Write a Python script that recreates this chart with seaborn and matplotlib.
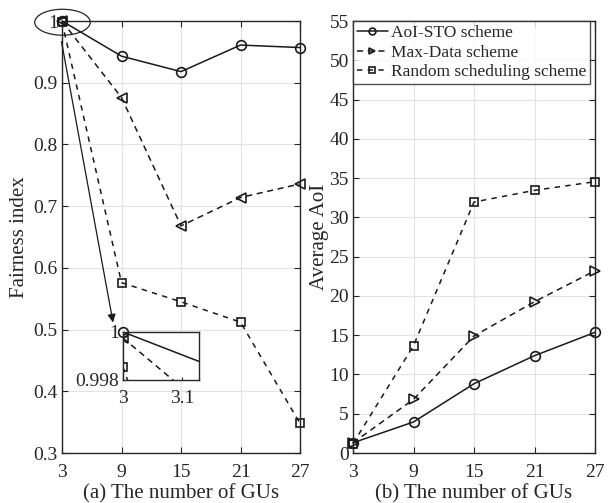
import matplotlib
matplotlib.use("Agg")
import matplotlib.pyplot as plt
from matplotlib.patches import Ellipse
import seaborn as sns
import pandas as pd

sns.set_theme(style="ticks")
plt.rcParams['font.family'] = ['Liberation Serif', 'DejaVu Serif']
plt.rcParams['mathtext.fontset'] = 'stix'

gus = [3, 9, 15, 21, 27]
fair_aoi = [1.0, 0.943, 0.918, 0.961, 0.957]
fair_max = [0.99975, 0.876, 0.668, 0.714, 0.736]
fair_rand = [0.99854, 0.576, 0.545, 0.512, 0.348]

aoi_aoi = [1.3, 3.95, 8.82, 12.39, 15.36]
aoi_max = [1.3, 6.83, 14.9, 19.26, 23.2]
aoi_rand = [1.2, 13.66, 31.95, 33.44, 34.54]

names = ["AoI-STO scheme", "Max-Data scheme", "Random scheduling scheme"]
xticks = [3, 9, 15, 21, 27]
yticks_a = [0.3, 0.4, 0.5, 0.6, 0.7, 0.8, 0.9, 1.0]
yticks_a_lbl = ["0.3", "0.4", "0.5", "0.6", "0.7", "0.8", "0.9", "1"]
yticks_b = list(range(0, 56, 5))

dfa = pd.DataFrame({"x": gus, "a": fair_aoi, "m": fair_max, "r": fair_rand})
dfb = pd.DataFrame({"x": gus, "a": aoi_aoi, "m": aoi_max, "r": aoi_rand})

EC = "#262626"
FS = 14
FL = 15
fig = plt.figure(figsize=(6.08, 5.03), dpi=100)
axa = fig.add_axes([62/608, 50/503, 238/608, 432/503])
axb = fig.add_axes([353/608, 50/503, 242/608, 432/503])

styles = [dict(marker="o", linestyle="-", ms=7),
          dict(marker="<", linestyle=(0, (4, 3)), ms=7),
          dict(marker="s", linestyle=(0, (3.5, 3.5)), ms=5.5)]
styles_b = [dict(marker="o", linestyle="-", ms=7),
            dict(marker=">", linestyle=(0, (4, 3)), ms=7),
            dict(marker="s", linestyle=(0, (3.5, 3.5)), ms=5.5)]

for col, st in zip(["a", "m", "r"], styles):
    sns.lineplot(data=dfa, x="x", y=col, ax=axa, color="k", lw=1.1,
                 markerfacecolor="none", markeredgecolor="k", mew=1.2,
                 clip_on=False, **st)
for col, st, nm in zip(["a", "m", "r"], styles_b, names):
    sns.lineplot(data=dfb, x="x", y=col, ax=axb, color="k", lw=1.1,
                 markerfacecolor="none", markeredgecolor="k", mew=1.2,
                 label=nm, clip_on=False, **st)

def style_ax(ax):
    ax.grid(True, color="#e3e3e3", lw=0.8)
    ax.set_axisbelow(True)
    for s in ax.spines.values():
        s.set_color(EC)
        s.set_linewidth(1.0)
        s.set_visible(True)
    ax.tick_params(direction="in", length=4, width=0.8, colors=EC,
                   labelsize=FS, labelcolor=EC, top=True, right=True, pad=3)
    ax.tick_params(axis="x", pad=8)
    ax.set_xticks(xticks)
    ax.set_xlim(3, 27)

style_ax(axa)
style_ax(axb)
axa.set_ylim(0.3, 1.0)
axa.set_yticks(yticks_a)
axa.set_yticklabels(yticks_a_lbl)
axb.set_ylim(0, 55)
axb.set_yticks(yticks_b)

axa.set_xlabel("(a) The number of GUs", fontsize=FL, color=EC, labelpad=2)
axb.set_xlabel("(b) The number of GUs", fontsize=FL, color=EC, labelpad=2)
axa.set_ylabel("Fairness index", fontsize=FL, color=EC, labelpad=3)
axb.set_ylabel("Average AoI", fontsize=FL, color=EC, labelpad=0)

leg = axb.legend(loc="upper left", fontsize=12.5, frameon=True, fancybox=False,
                 borderaxespad=0.0, handlelength=1.8, handletextpad=0.15,
                 labelspacing=0.2, borderpad=0.22, markerscale=0.7)
leg.get_frame().set_edgecolor(EC)
leg.get_frame().set_linewidth(1.0)
for t in leg.get_texts():
    t.set_color(EC)

# ellipse & arrow
ell = Ellipse((3.05, 0.998), width=5.6, height=0.042, fill=False, ec=EC, lw=0.9, clip_on=False)
axa.add_patch(ell)
axa.annotate("", xy=(8.2, 0.507), xytext=(2.9, 0.971),
             arrowprops=dict(arrowstyle="-|>", color="k", lw=0.9, mutation_scale=12),
             annotation_clip=False)

# inset
axi = fig.add_axes([123/608, (503-380)/503, 76/608, 48/503])
for col, st in zip(["a", "m", "r"], styles):
    sns.lineplot(data=dfa, x="x", y=col, ax=axi, color="k", lw=1.1,
                 markerfacecolor="none", markeredgecolor="k", mew=1.2, **st)
# first AoI-STO marker sits on the inset's top edge: draw it unclipped
sns.lineplot(data=dfa.iloc[:1], x="x", y="a", ax=axi, color="k", lw=0,
             marker="o", ms=7, markerfacecolor="none", markeredgecolor="k",
             mew=1.2, clip_on=False)
axi.set_xlim(3, 3.129)
axi.set_ylim(0.998, 1.0)
axi.set_xticks([3, 3.1])
axi.set_xticklabels(["3", "3.1"])
axi.set_yticks([0.998, 1.0])
axi.set_yticklabels(["0.998", "1"])
axi.set_xlabel("")
axi.set_ylabel("")
for s in axi.spines.values():
    s.set_color(EC)
    s.set_linewidth(1.0)
axi.tick_params(direction="in", length=2, width=0.8, colors=EC,
                labelsize=FS, labelcolor=EC, pad=3)
axi.tick_params(axis="x", pad=7)
axi.set_facecolor("white")

fig.savefig("out.png", dpi=100)
